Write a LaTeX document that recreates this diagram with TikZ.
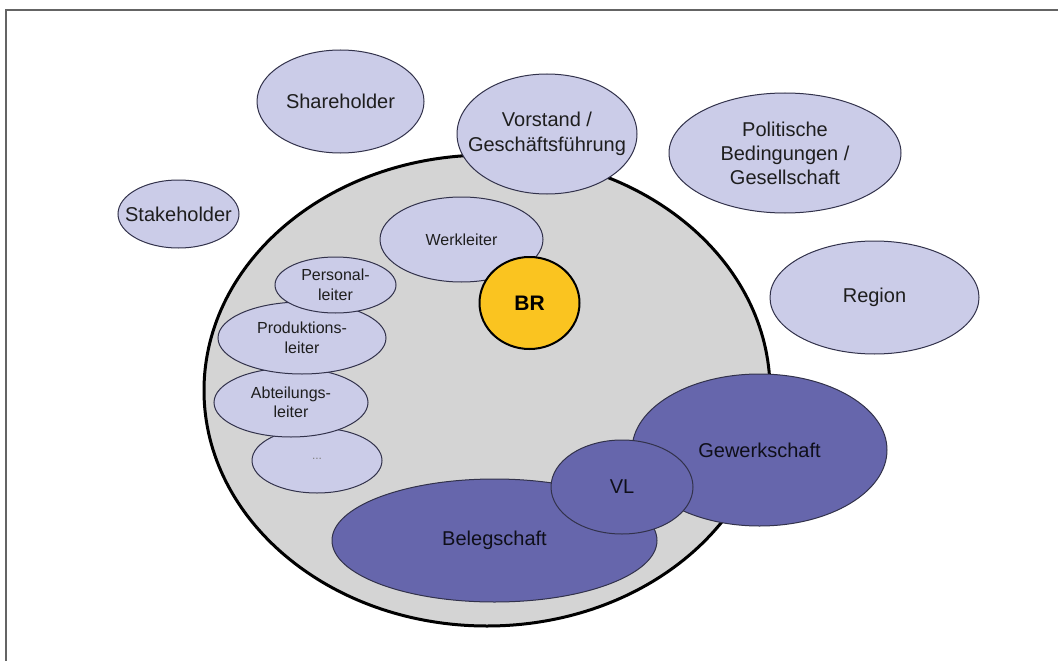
\documentclass[tikz,border=0pt]{standalone}
\usepackage{fontspec}
\setmainfont{Liberation Sans}
\definecolor{lav}{RGB}{203,204,232}
\definecolor{bggray}{RGB}{212,212,212}
\definecolor{purp}{RGB}{102,102,172}
\definecolor{brY}{RGB}{250,196,32}
\definecolor{framec}{RGB}{100,100,100}
\definecolor{edgec}{RGB}{50,50,75}
\definecolor{txt}{RGB}{30,30,30}
\begin{document}
\begin{tikzpicture}[x=1pt,y=-1pt,
  lavell/.style={fill=lav,draw=edgec,line width=1pt},
  purpell/.style={fill=purp,draw=edgec,line width=1pt},
  bigtxt/.style={text=txt,align=center,inner sep=0pt,font=\fontsize{20}{25}\selectfont},
  smalltxt/.style={text=txt,align=center,inner sep=0pt,font=\fontsize{16}{19.5}\selectfont},
  darktxt/.style={text=black!85!purp,align=center,inner sep=0pt,font=\fontsize{20}{25}\selectfont}]
\useasboundingbox (0,0) rectangle (1058,661);
\fill[white] (0,0) rectangle (1058,661);
\draw[framec,line width=2pt] (6,662) -- (6,10) -- (1059,10);

% outer ellipses
\coordinate (cShare) at (340.5,101.5);
\coordinate (cStake) at (178.5,214);
\coordinate (cPol) at (785,153);
\coordinate (cReg) at (874.5,297.5);
\coordinate (cFirm) at (487,390.5);
\coordinate (cVor) at (547,134);

\draw[lavell] (cShare) ellipse [x radius=83.5pt, y radius=51.5pt];
\draw[lavell] (cStake) ellipse [x radius=60.5pt, y radius=34pt];
\draw[lavell] (cPol) ellipse [x radius=116pt, y radius=60pt];
\draw[lavell] (cReg) ellipse [x radius=104.5pt, y radius=56.5pt];

% company
\draw[fill=bggray,draw=black,line width=3pt] (cFirm) ellipse [x radius=283pt, y radius=235.5pt];
\draw[lavell] (cVor) ellipse [x radius=90pt, y radius=60pt];

% inside
\coordinate (cWerk) at (461.5,239.5);
\coordinate (cBR) at (529.5,303);
\coordinate (cDots) at (317,460.5);
\coordinate (cAbt) at (291,402.5);
\coordinate (cProd) at (302,338);
\coordinate (cPers) at (335.5,285);
\draw[lavell] (cWerk) ellipse [x radius=81.5pt, y radius=42.5pt];
\draw[fill=brY,draw=black,line width=2pt] (cBR) ellipse [x radius=50pt, y radius=46pt];
\draw[lavell] (cDots) ellipse [x radius=65pt, y radius=32.5pt];
\draw[lavell] (cAbt) ellipse [x radius=77pt, y radius=34.5pt];
\draw[lavell] (cProd) ellipse [x radius=84pt, y radius=36pt];
\draw[lavell] (cPers) ellipse [x radius=60.5pt, y radius=28pt];

% workforce / union
\coordinate (cBel) at (494.5,540.5);
\coordinate (cGew) at (759.5,450);
\coordinate (cVL) at (622,487);
\draw[purpell] (cBel) ellipse [x radius=162.5pt, y radius=61.5pt];
\draw[purpell] (cGew) ellipse [x radius=127.5pt, y radius=76pt];
\draw[purpell] (cVL) ellipse [x radius=71pt, y radius=47pt];

% texts
\node[bigtxt] (share) at (cShare) {Shareholder};
\node[bigtxt] (stake) at (cStake) {Stakeholder};
\node[bigtxt] (pol) at (cPol) {Politische\\[-1pt]Bedingungen /\\[-1pt]Gesellschaft};
\node[bigtxt] (reg) at (cReg) {Region};
\node[bigtxt] (vor) at (cVor) {Vorstand /\\Geschäftsführung};
\node[smalltxt] (werk) at (cWerk) {Werkleiter};
\node[text=black,inner sep=0pt,font=\fontsize{21}{25}\selectfont\bfseries] (br) at (cBR) {BR};
\node[smalltxt] (pers) at (cPers) {Personal-\\leiter};
\node[smalltxt] (prod) at (cProd) {Produktions-\\leiter};
\node[smalltxt] (abt) at (cAbt) {Abteilungs-\\leiter};
\node[text=gray,inner sep=0pt,font=\fontsize{12}{14}\selectfont] (dots) at ([yshift=2pt]cDots) {...};
\node[darktxt] (bel) at (cBel) {Belegschaft};
\node[darktxt] (gew) at (cGew) {Gewerkschaft};
\node[darktxt] (vl) at (cVL) {VL};
\end{tikzpicture}
\end{document}
